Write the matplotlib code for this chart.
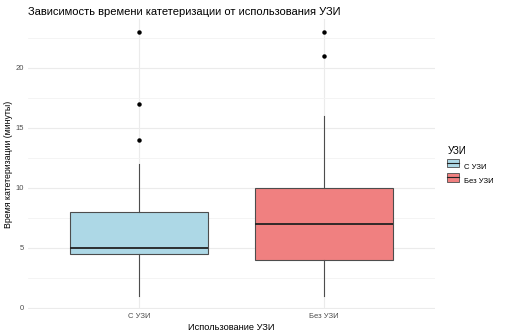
import matplotlib
matplotlib.use("Agg")
import matplotlib.pyplot as plt
from matplotlib.patches import Patch
from matplotlib.legend_handler import HandlerBase
from matplotlib.patches import Rectangle
from matplotlib.lines import Line2D

plt.rcParams['font.family'] = ['Liberation Sans', 'DejaVu Sans']

# -------- data --------
groups = ["С УЗИ", "Без УЗИ"]
whislo = [1, 1]
q1 = [4.5, 4]
med = [5, 7]
q3 = [8, 10]
whishi = [12, 16]
fliers = [[14, 17, 23], [21, 23]]
colors = ["#ADD8E6", "#F08080"]
edge = "#4d4d4d"

stats = []
for i, g in enumerate(groups):
    stats.append(dict(label=g, whislo=whislo[i], q1=q1[i], med=med[i],
                      q3=q3[i], whishi=whishi[i], fliers=fliers[i]))

fig = plt.figure(figsize=(5.05, 3.36), dpi=100)
ax = fig.add_axes([0.0554, 0.080, 0.806, 0.864])

bp = ax.bxp(stats, positions=[1, 2], widths=0.75, patch_artist=True,
            showcaps=False,
            boxprops=dict(edgecolor=edge, linewidth=0.8),
            medianprops=dict(color="#222222", linewidth=1.3),
            whiskerprops=dict(color=edge, linewidth=0.8),
            flierprops=dict(marker="o", markersize=2.2, markerfacecolor="black",
                            markeredgecolor="black"))
for patch, c in zip(bp["boxes"], colors):
    patch.set_facecolor(c)

ax.set_xlim(0.4, 2.6)
ax.set_ylim(-0.1, 24.1)
ax.set_yticks([0, 5, 10, 15, 20])
ax.set_yticks([2.5, 7.5, 12.5, 17.5, 22.5], minor=True)
ax.set_xticks([1, 2])
ax.set_xticklabels(groups)
ax.grid(True, which="major", color="#EBEBEB", linewidth=0.8)
ax.grid(True, which="minor", axis="y", color="#F3F3F3", linewidth=0.6)
ax.set_axisbelow(True)
for s in ax.spines.values():
    s.set_visible(False)
ax.tick_params(which="both", length=0, labelsize=5.5, labelcolor="#4d4d4d", pad=3)

ax.set_xlabel("Использование УЗИ", fontsize=6.7, labelpad=2)
ax.set_ylabel("Время катетеризации (минуты)", fontsize=6.3, labelpad=1.5)
fig.text(0.055, 0.978, "Зависимость времени катетеризации от использования УЗИ",
         fontsize=8.0, va="top", ha="left")


class BoxKey(HandlerBase):
    def create_artists(self, legend, orig, xd, yd, w, h, fs, trans):
        r = Rectangle((xd, yd), w, h, facecolor=orig.get_facecolor(),
                      edgecolor=edge, linewidth=0.6, transform=trans)
        l = Line2D([xd, xd + w], [yd + h / 2, yd + h / 2], color="#222222",
                   linewidth=0.8, transform=trans)
        return [r, l]


handles = [Patch(facecolor=c, label=g) for c, g in zip(colors, groups)]
leg = fig.legend(handles=handles, title="УЗИ", loc="upper left",
                 bbox_to_anchor=(0.872, 0.585), frameon=False, fontsize=5.5,
                 title_fontsize=7, handler_map={Patch: BoxKey()},
                 handlelength=1.55, handleheight=1.3, handletextpad=0.6,
                 labelspacing=0.75)
leg._legend_box.align = "left"

fig.savefig("out.png", dpi=100)
